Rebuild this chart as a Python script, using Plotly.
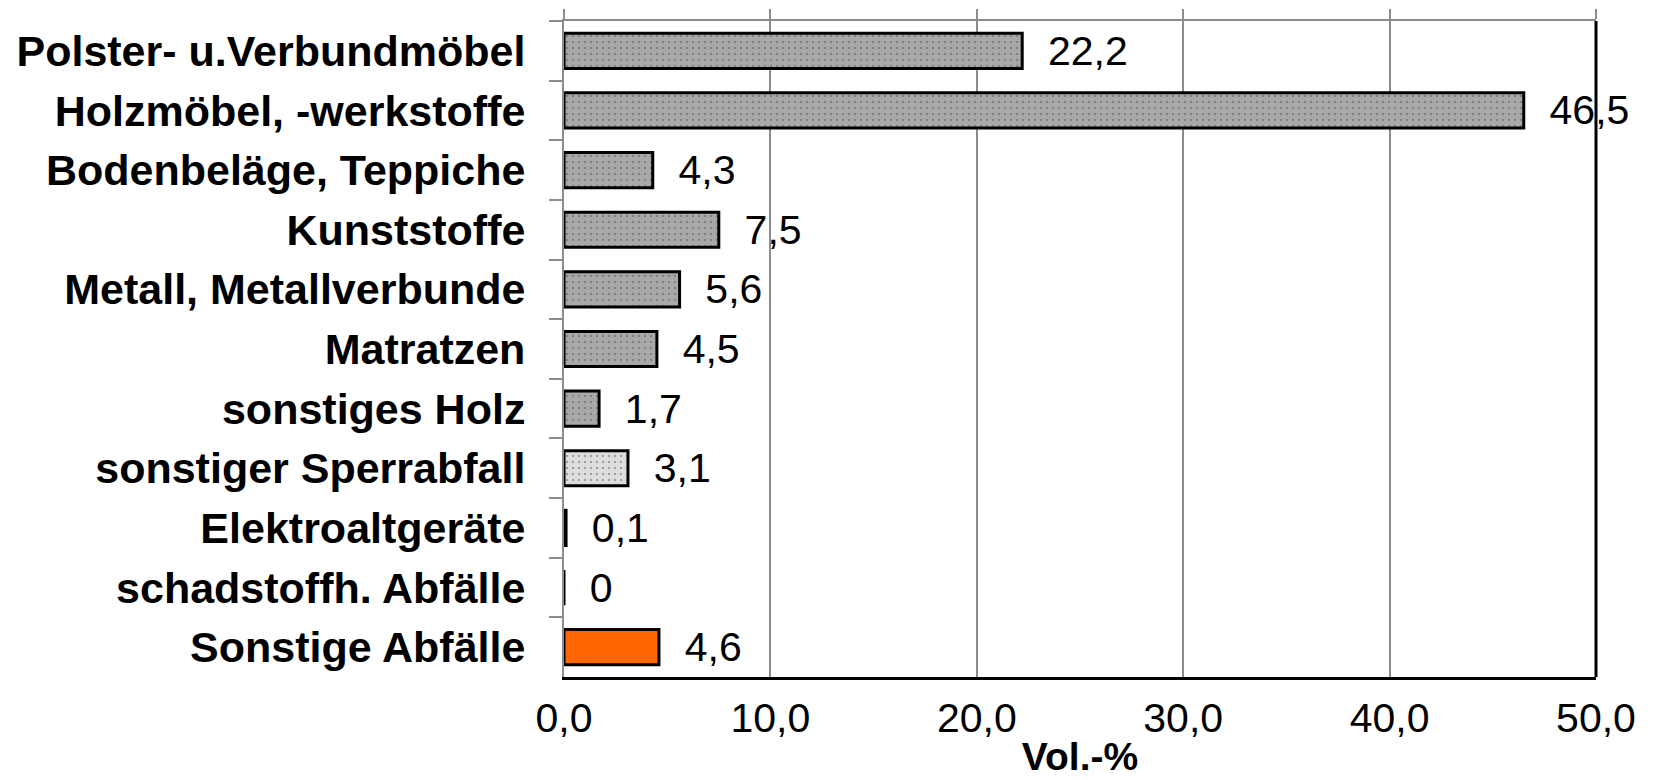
import plotly.graph_objects as go

categories = ["Polster- u.Verbundmöbel", "Holzmöbel, -werkstoffe", "Bodenbeläge, Teppiche",
              "Kunststoffe", "Metall, Metallverbunde", "Matratzen", "sonstiges Holz",
              "sonstiger Sperrabfall", "Elektroaltgeräte", "schadstoffh. Abfälle", "Sonstige Abfälle"]
values = [22.2, 46.5, 4.3, 7.5, 5.6, 4.5, 1.7, 3.1, 0.1, 0, 4.6]
bar_colors = ["#a8a8a8"] * 7 + ["#dcdcdc", "#a8a8a8", "#a8a8a8", "#ff6600"]
dot_colors = ["#9a9a9a"] * 7 + ["#cfcfcf", "#9a9a9a", "#9a9a9a", "#ff6600"]
dot_shapes = ["."] * 10 + [""]
x_ticks = [0, 10, 20, 30, 40, 50]

labels = ["\u00a0\u00a0" + (f"{v:.1f}".replace(".", ",") if v else "0") for v in values]

FONT = "Liberation Sans, Arial, sans-serif"
GRID = "#8c8c8c"

fig = go.Figure()
fig.add_trace(go.Bar(
    x=values, y=categories, orientation="h",
    marker=dict(color=bar_colors, line=dict(color="black", width=3),
                pattern=dict(shape=dot_shapes, fgcolor=dot_colors, bgcolor=bar_colors,
                             size=6, solidity=0.1)),
    text=labels, textposition="outside", cliponaxis=False, constraintext="none",
    textfont=dict(family=FONT, size=41, color="black"),
    width=0.59, showlegend=False, hoverinfo="skip",
))
fig.add_trace(go.Scatter(x=[], y=[], xaxis="x2", showlegend=False))

fig.update_layout(
    width=1653, height=780,
    margin=dict(l=556, r=65, t=13, b=111),
    paper_bgcolor="white", plot_bgcolor="white",
    separators=", ",
    font=dict(family=FONT, color="black"),
    xaxis=dict(
        range=[0, 50], tickvals=x_ticks, tickformat=".1f", automargin=False,
        showgrid=True, gridcolor=GRID, gridwidth=2,
        showline=True, linecolor="black", linewidth=3,
        ticks="", tickfont=dict(family=FONT, size=41, color="black"),
        ticklabelstandoff=3, zeroline=False,
        title=dict(text="Vol.-%", font=dict(family=FONT, size=39, weight="bold"), standoff=3),
    ),
    xaxis2=dict(
        range=[0, 50], tickvals=x_ticks, overlaying="x", side="top", anchor="y",
        showticklabels=False, showgrid=False, zeroline=False, automargin=False,
        ticks="outside", ticklen=10, tickwidth=2, tickcolor=GRID,
        showline=True, linecolor=GRID, linewidth=2,
    ),
    yaxis=dict(
        autorange="reversed", type="category", automargin=False,
        showline=True, linecolor=GRID, linewidth=2,
        ticks="outside", tickson="boundaries", ticklen=13, tickwidth=2, tickcolor=GRID,
        showgrid=False, ticklabelstandoff=28,
        tickfont=dict(family=FONT, size=43, weight="bold", color="black"),
    ),
    shapes=[dict(type="line", xref="paper", yref="paper", x0=1, x1=1, y0=0, y1=1,
                 line=dict(color="black", width=3))],
)

fig.write_html("out.html")
